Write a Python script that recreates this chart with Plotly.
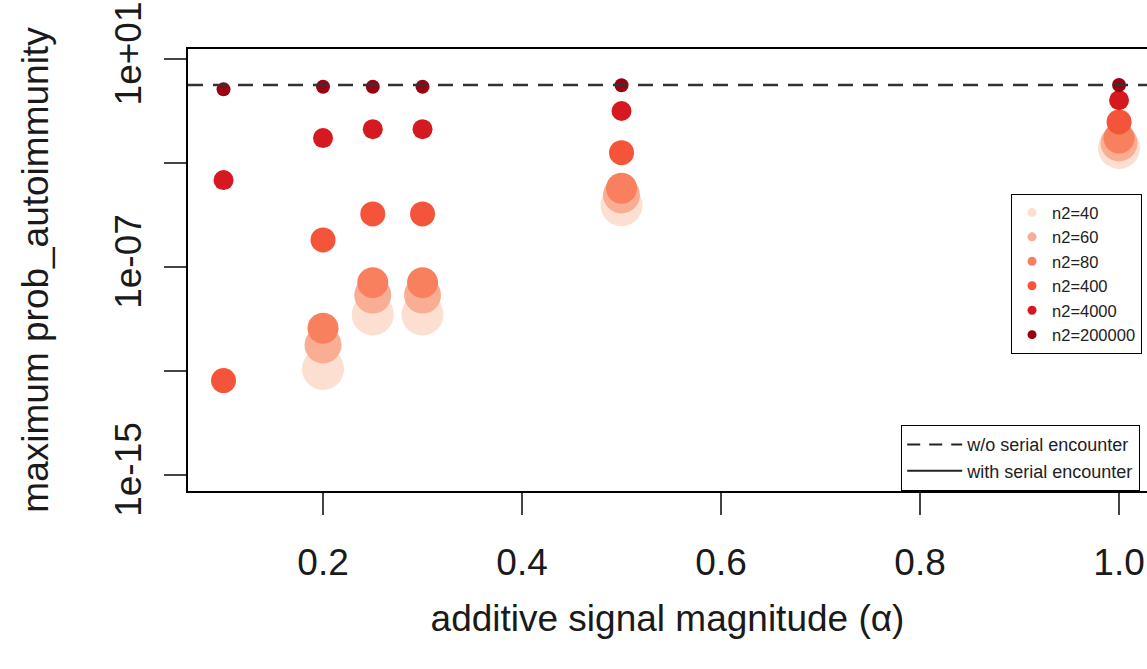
import plotly.graph_objects as go

# ---- data ----
alpha = [0.1, 0.2, 0.25, 0.3, 0.5, 1.0]
n2_labels = ["n2=40", "n2=60", "n2=80", "n2=400", "n2=4000", "n2=200000"]

# maximum prob_autoimmunity for each n2 (None = not shown / zero)
p_n2_40 = [None, 1.2e-11, 1.5e-9, 1.5e-9, 2.4e-5, 3.8e-3]
p_n2_60 = [None, 1.0e-10, 8.3e-9, 8.3e-9, 5.9e-5, 5.9e-3]
p_n2_80 = [None, 4.4e-10, 2.5e-8, 2.5e-8, 1.07e-4, 9.1e-3]
p_n2_400 = [4.3e-12, 1.1e-6, 1.1e-5, 1.1e-5, 2.5e-3, 3.8e-2]
p_n2_4000 = [2.2e-4, 9.1e-3, 2.0e-2, 2.0e-2, 0.10, 0.26]
p_n2_200000 = [0.68, 0.86, 0.86, 0.86, 0.98, 1.0]

reference_prob = 1.0  # w/o serial encounter (horizontal reference)

x_range = [0.0643, 1.0281]
y_range_log = [-15.615, 1.385]
y_tickvals = [1e1, 1e-3, 1e-7, 1e-11, 1e-15]
y_ticktext = ["1e+01", "", "1e-07", "", "1e-15"]
x_tickvals = [0.2, 0.4, 0.6, 0.8, 1.0]
x_ticktext = ["0.2", "0.4", "0.6", "0.8", "1.0"]

series = [p_n2_40, p_n2_60, p_n2_80, p_n2_400, p_n2_4000, p_n2_200000]
colors = ["#FCDFD0", "#F9AE94", "#F8805F", "#F4553A", "#D41A20", "#9B0010"]
sizes = [42, 37, 31, 25, 20, 14]

FONT = "Liberation Sans, Arial, Helvetica, sans-serif"
TXT = "#1a1a1a"

fig = go.Figure()
for lab, vals, col, sz in zip(n2_labels, series, colors, sizes):
    fig.add_trace(go.Scatter(
        x=alpha, y=vals, mode="markers",
        marker=dict(color=col, size=sz, line=dict(width=0)),
        showlegend=False, hoverinfo="skip"))

# horizontal reference line across the whole plot region (drawn on top)
fig.add_trace(go.Scatter(
    x=x_range, y=[reference_prob, reference_prob], mode="lines",
    line=dict(color="#333", width=2.5, dash="15px,10px"),
    showlegend=False, hoverinfo="skip"))

for lab, col in zip(n2_labels, colors):
    fig.add_trace(go.Scatter(
        x=[None], y=[None], mode="markers", name=lab,
        marker=dict(color=col, size=9), legend="legend", legendgroup=lab))

fig.add_trace(go.Scatter(
    x=[None], y=[None], mode="lines", name="w/o serial encounter",
    line=dict(color="#222", width=2, dash="13px,9px"), legend="legend2"))
fig.add_trace(go.Scatter(
    x=[None], y=[None], mode="lines", name="with serial encounter",
    line=dict(color="#222", width=2), legend="legend2"))

fig.update_layout(
    template="none",
    width=1147, height=669,
    margin=dict(l=188, r=0, t=49, b=178, autoexpand=False),
    paper_bgcolor="white", plot_bgcolor="white",
    font=dict(family=FONT, color=TXT, size=37),
    xaxis=dict(
        range=x_range, tickmode="array", tickvals=x_tickvals, ticktext=x_ticktext,
        ticks="outside", ticklen=22, tickwidth=1.5, tickcolor="#444",
        showline=True, linecolor="black", linewidth=1.5, mirror=True,
        showgrid=False, zeroline=False, tickfont=dict(size=37, family=FONT, color=TXT),
        ticklabelstandoff=16,
        title=dict(text="additive signal magnitude (α)", font=dict(size=37, family=FONT, color=TXT), standoff=23),
    ),
    yaxis=dict(
        type="log", range=y_range_log, tickmode="array", tickvals=y_tickvals, ticktext=y_ticktext,
        tickangle=-90, ticks="outside", ticklen=22, tickwidth=1.5, tickcolor="#444",
        showline=True, linecolor="black", linewidth=1.5, mirror=False,
        showgrid=False, zeroline=False, tickfont=dict(size=37, family=FONT, color=TXT),
        ticklabelstandoff=8,
        title=dict(text="maximum prob_autoimmunity", font=dict(size=37, family=FONT, color=TXT), standoff=49),
    ),
    legend=dict(
        x=0.858, y=0.672, xanchor="left", yanchor="top", xref="paper", yref="paper",
        bgcolor="white", bordercolor="black", borderwidth=1.2,
        font=dict(size=16.5, family=FONT, color="#222"), tracegroupgap=0,
        itemwidth=30,
    ),
    legend2=dict(
        x=0.7435, y=0.0, xanchor="left", yanchor="bottom", xref="paper", yref="paper",
        bgcolor="white", bordercolor="black", borderwidth=1.2,
        font=dict(size=18, family=FONT, color="#222"),
        itemwidth=55,
    ),
)

fig.write_html("out.html")
